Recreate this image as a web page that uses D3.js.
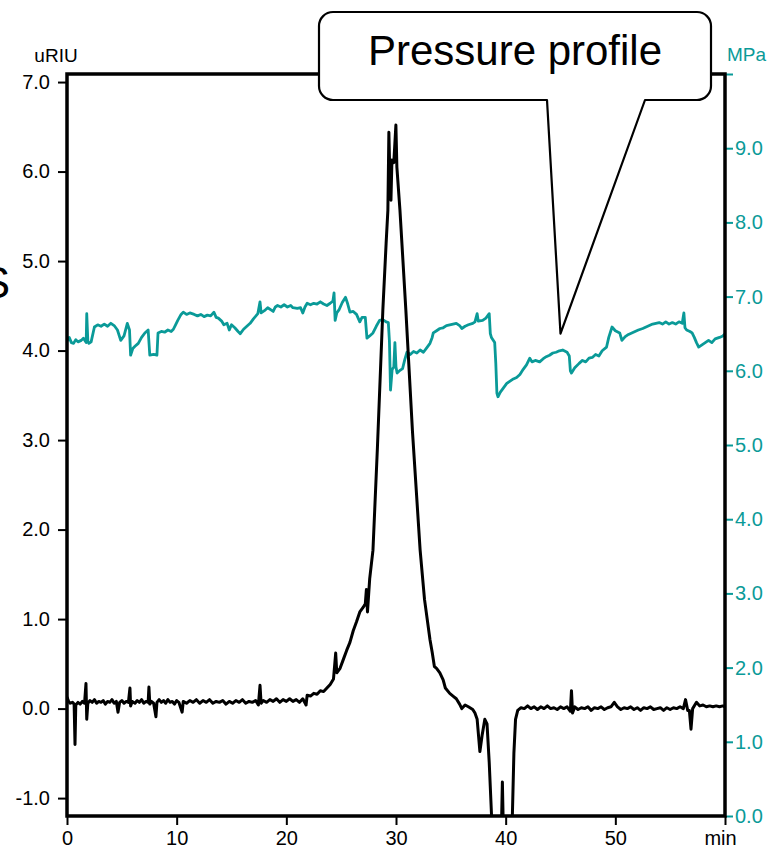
<!DOCTYPE html>
<html lang="en">
<head>
<meta charset="UTF-8">
<title>RI chromatogram with pressure profile</title>
<script src="https://d3js.org/d3.v7.min.js"></script>
<style>
    body { margin: 0; padding: 0; background: #fff; }
    svg { display: block; font-family: 'Liberation Sans', Arial, sans-serif; }
    .tick text { font-size: 20px; }
</style>
</head>
<body>
<svg id="chart" width="774" height="848"></svg>
<script>
    // axis ticks
    const timeTicks = [0, 10, 20, 30, 40, 50, 60];
    const riTicks = [-1, 0, 1, 2, 3, 4, 5, 6, 7];
    const pressureTicks = [0, 1, 2, 3, 4, 5, 6, 7, 8, 9, 10];

    // RI detector signal [min, uRIU]
    const riTrace = [
        [0.0,0.13],[0.15,0.08],[0.3,0.06],[0.5,0.07],[0.65,0.05],[0.73,-0.40],[0.8,0.04],[1.0,0.07],[1.2,0.05],[1.4,0.08],
        [1.6,0.06],[1.73,0.28],[1.8,-0.12],[1.9,0.06],[2.1,0.09],[2.3,0.07],[2.5,0.10],[2.7,0.06],[2.9,0.08],[3.1,0.07],
        [3.3,0.09],[3.5,0.05],[3.7,0.08],[3.9,0.07],[4.1,0.10],[4.3,0.06],[4.5,0.08],[4.65,-0.04],[4.8,0.07],[5.0,0.09],
        [5.2,0.06],[5.4,0.08],[5.6,0.07],[5.74,0.23],[5.8,0.03],[5.95,0.08],[6.2,0.06],[6.4,0.09],[6.6,0.07],[6.8,0.10],
        [7.0,0.06],[7.2,0.08],[7.4,0.07],[7.47,0.24],[7.55,0.05],[7.7,0.08],[7.9,0.06],[8.11,-0.09],[8.2,0.07],[8.4,0.10],
        [8.6,0.07],[8.8,0.09],[9.0,0.06],[9.2,0.10],[9.4,0.07],[9.6,0.08],[9.8,0.05],[10.0,0.09],[10.2,0.07],[10.5,-0.04],
        [10.6,0.08],[10.9,0.06],[11.2,0.09],[11.5,0.07],[11.8,0.10],[12.1,0.06],[12.4,0.09],[12.7,0.07],[13.0,0.10],[13.3,0.06],
        [13.6,0.08],[13.9,0.07],[14.2,0.09],[14.5,0.05],[14.8,0.08],[15.1,0.06],[15.4,0.09],[15.7,0.07],[16.0,0.10],[16.3,0.06],
        [16.6,0.08],[16.9,0.07],[17.2,0.09],[17.45,0.04],[17.6,0.26],[17.7,0.06],[17.9,0.09],[18.2,0.07],[18.5,0.10],[18.8,0.08],
        [19.1,0.11],[19.4,0.07],[19.7,0.10],[20.0,0.08],[20.3,0.11],[20.6,0.08],[20.9,0.10],[21.2,0.07],[21.5,0.11],[21.8,0.04],
        [21.9,0.15],[22.2,0.14],[22.5,0.17],[22.8,0.16],[23.1,0.20],[23.4,0.19],[23.7,0.23],[24.0,0.27],[24.3,0.33],[24.5,0.62],
        [24.6,0.40],[24.9,0.45],[25.2,0.55],[25.5,0.65],[25.8,0.74],[26.1,0.87],[26.4,0.97],[26.7,1.08],[27.0,1.13],[27.2,1.17],
        [27.3,1.33],[27.4,1.08],[27.6,1.45],[27.9,1.77],[28.3,2.90],[28.8,4.45],[29.1,5.20],[29.26,5.57],[29.35,6.44],[29.45,5.90],
        [29.54,5.68],[29.63,6.13],[29.8,6.10],[29.99,6.52],[30.08,6.05],[30.36,5.57],[30.9,4.45],[31.5,3.10],[32.2,1.77],[32.6,1.22],
        [33.1,0.77],[33.3,0.63],[33.5,0.47],[33.7,0.45],[34.0,0.40],[34.3,0.32],[34.5,0.23],[34.9,0.17],[35.2,0.14],[35.5,0.11],
        [35.8,0.05],[36.0,0.00],[36.3,0.04],[36.6,0.02],[37.0,-0.01],[37.2,-0.05],[37.4,-0.12],[37.65,-0.48],[37.85,-0.30],[38.1,-0.12],
        [38.3,-0.17],[38.5,-0.60],[38.75,-1.30],[38.9,-1.60],[39.5,-1.60],[39.62,-1.30],[39.7,-0.82],[39.78,-1.30],[39.9,-1.60],[40.4,-1.60],
        [40.6,-1.25],[40.75,-0.50],[40.9,-0.12],[41.1,-0.02],[41.4,0.01],[41.7,0.00],[42.0,0.03],[42.3,0.00],[42.6,0.02],[42.9,-0.01],
        [43.2,0.02],[43.5,0.00],[43.8,0.03],[44.1,0.00],[44.4,0.01],[44.7,-0.01],[45.0,0.02],[45.3,0.00],[45.6,0.02],[45.9,-0.03],
        [46.0,0.20],[46.1,-0.05],[46.3,0.02],[46.6,-0.01],[46.9,0.01],[47.2,0.00],[47.5,0.02],[47.8,-0.02],[48.1,0.01],[48.4,0.00],
        [48.7,0.02],[49.0,-0.01],[49.3,0.01],[49.6,0.02],[49.9,0.07],[50.2,0.02],[50.5,-0.01],[50.8,0.01],[51.1,0.00],[51.4,0.02],
        [51.7,-0.01],[52.0,0.01],[52.3,-0.02],[52.6,0.01],[52.9,0.00],[53.2,0.02],[53.5,-0.01],[53.8,0.00],[54.1,0.01],[54.4,-0.02],
        [54.7,0.01],[55.0,-0.01],[55.3,0.01],[55.6,0.00],[55.9,0.02],[56.2,0.00],[56.4,0.10],[56.6,-0.02],[56.75,-0.02],[56.9,-0.23],
        [57.05,0.00],[57.4,0.07],[57.7,0.03],[58.0,0.04],[58.3,0.02],[58.6,0.03],[58.9,0.02],[59.2,0.03],[59.5,0.02],[59.8,0.03],
        [60.0,0.02]
    ];

    // pump pressure [min, MPa]
    const pressureTrace = [
        [0.0,6.40],[0.2,6.45],[0.4,6.38],[0.6,6.37],[0.8,6.42],[1.0,6.39],[1.3,6.41],[1.5,6.44],[1.75,6.38],[1.8,6.77],
        [1.9,6.40],[2.0,6.37],[2.2,6.39],[2.5,6.59],[2.8,6.62],[3.1,6.60],[3.4,6.63],[3.7,6.60],[4.0,6.64],[4.3,6.61],
        [4.6,6.55],[4.9,6.41],[5.2,6.47],[5.5,6.64],[5.7,6.55],[5.8,6.21],[6.0,6.30],[6.2,6.33],[6.5,6.37],[6.8,6.45],
        [7.1,6.51],[7.4,6.55],[7.55,6.21],[7.9,6.22],[8.2,6.21],[8.3,6.51],[8.6,6.53],[8.9,6.52],[9.2,6.55],[9.5,6.53],
        [9.7,6.56],[9.9,6.62],[10.1,6.68],[10.4,6.76],[10.6,6.79],[10.9,6.76],[11.2,6.78],[11.6,6.76],[11.9,6.74],[12.2,6.76],
        [12.5,6.73],[12.8,6.75],[13.1,6.74],[13.4,6.79],[13.6,6.72],[13.8,6.71],[14.1,6.67],[14.3,6.62],[14.6,6.64],[14.8,6.55],
        [15.0,6.62],[15.3,6.58],[15.6,6.53],[15.8,6.50],[16.1,6.56],[16.4,6.60],[16.7,6.64],[17.0,6.70],[17.4,6.77],[17.6,6.93],
        [17.7,6.78],[18.0,6.81],[18.3,6.85],[18.6,6.82],[18.8,6.80],[19.0,6.86],[19.2,6.88],[19.5,6.86],[19.8,6.89],[20.1,6.86],
        [20.4,6.88],[20.6,6.85],[21.0,6.84],[21.3,6.85],[21.5,6.78],[21.7,6.86],[21.9,6.91],[22.2,6.89],[22.5,6.91],[22.8,6.90],
        [23.1,6.93],[23.4,6.90],[23.7,6.88],[24.0,6.91],[24.25,6.94],[24.35,7.05],[24.45,6.68],[24.6,6.78],[24.8,6.82],[25.1,6.92],
        [25.4,6.99],[25.6,6.90],[25.8,6.79],[26.1,6.80],[26.4,6.76],[26.7,6.66],[26.9,6.72],[27.2,6.72],[27.35,6.44],[27.6,6.47],
        [27.9,6.51],[28.2,6.60],[28.5,6.68],[28.8,6.69],[29.1,6.66],[29.3,6.65],[29.4,6.40],[29.5,5.74],[29.65,6.02],[29.8,6.05],
        [29.9,6.38],[30.0,6.05],[30.1,5.97],[30.4,6.01],[30.6,6.03],[30.8,6.15],[31.0,6.25],[31.3,6.22],[31.6,6.26],[31.9,6.24],
        [32.2,6.28],[32.5,6.25],[32.8,6.31],[33.1,6.37],[33.3,6.45],[33.4,6.51],[33.7,6.54],[34.0,6.57],[34.3,6.58],[34.6,6.61],
        [34.9,6.62],[35.2,6.63],[35.5,6.64],[35.8,6.61],[36.0,6.57],[36.3,6.60],[36.6,6.62],[37.0,6.64],[37.2,6.66],[37.4,6.77],
        [37.5,6.67],[37.9,6.68],[38.2,6.71],[38.5,6.77],[38.6,6.50],[38.7,6.45],[39.0,6.38],[39.1,6.10],[39.2,5.70],[39.3,5.65],
        [39.5,5.71],[39.8,5.77],[40.1,5.83],[40.4,5.86],[40.7,5.89],[41.0,5.91],[41.3,5.95],[41.6,6.02],[41.9,6.08],[42.2,6.17],
        [42.4,6.12],[42.7,6.14],[43.1,6.12],[43.4,6.16],[43.7,6.19],[44.0,6.21],[44.3,6.24],[44.6,6.25],[44.9,6.27],[45.2,6.28],
        [45.6,6.25],[45.8,6.20],[45.9,6.00],[46.0,5.97],[46.3,6.04],[46.7,6.10],[47.0,6.14],[47.3,6.12],[47.6,6.17],[47.9,6.18],
        [48.2,6.22],[48.5,6.20],[48.8,6.27],[49.2,6.32],[49.4,6.45],[49.7,6.59],[50.0,6.54],[50.4,6.51],[50.6,6.41],[50.9,6.46],
        [51.2,6.49],[51.5,6.51],[51.8,6.53],[52.1,6.55],[52.5,6.57],[52.8,6.59],[53.1,6.61],[53.4,6.63],[53.7,6.64],[54.0,6.65],
        [54.3,6.63],[54.6,6.66],[54.9,6.63],[55.2,6.65],[55.5,6.63],[55.8,6.66],[56.1,6.64],[56.25,6.78],[56.35,6.58],[56.5,6.55],
        [56.8,6.53],[57.0,6.51],[57.2,6.45],[57.4,6.38],[57.6,6.32],[57.9,6.35],[58.2,6.38],[58.5,6.41],[58.8,6.38],[59.1,6.43],
        [59.5,6.45],[59.8,6.47],[60.0,6.50]
    ];

    const calloutText = "Pressure profile";
    const calloutTarget = [45, 6.5]; // min, MPa

    const TEAL = "#0a9a98";

    const svg = d3.select("#chart");
    const plot = { left: 67, right: 725, top: 74, bottom: 816 };

    const x = d3.scaleLinear().domain([0, 60]).range([plot.left, plot.right]);
    const yRI = d3.scaleLinear().domain([-1.2, 7.09]).range([plot.bottom, plot.top]);
    const yP = d3.scaleLinear().domain([0, 10]).range([plot.bottom, plot.top]);

    svg.append("clipPath").attr("id", "plotClip")
        .append("rect")
        .attr("x", plot.left).attr("y", plot.top)
        .attr("width", plot.right - plot.left).attr("height", plot.bottom - plot.top);

    // left axis (uRIU)
    const leftAxis = svg.append("g")
        .attr("transform", `translate(${plot.left},0)`)
        .call(d3.axisLeft(yRI).tickValues(riTicks).tickFormat(d => d.toFixed(1)).tickSize(9).tickPadding(8));
    leftAxis.select(".domain").remove();
    leftAxis.selectAll(".tick line").attr("stroke", "#000").attr("stroke-width", 2);
    leftAxis.selectAll(".tick text").attr("fill", "#000");

    // right axis (MPa)
    const rightAxis = svg.append("g")
        .attr("transform", `translate(${plot.right},0)`)
        .call(d3.axisRight(yP).tickValues(pressureTicks)
            .tickFormat(d => d === 10 ? "" : d.toFixed(1)).tickSize(8).tickPadding(2));
    rightAxis.select(".domain").remove();
    rightAxis.selectAll(".tick line").attr("stroke", TEAL).attr("stroke-width", 2);
    rightAxis.selectAll(".tick text").attr("fill", TEAL);

    // bottom axis (min)
    const bottomAxis = svg.append("g")
        .attr("transform", `translate(0,${plot.bottom})`)
        .call(d3.axisBottom(x).tickValues(timeTicks)
            .tickFormat(d => d === 60 ? "min" : d).tickSize(9).tickPadding(6));
    bottomAxis.select(".domain").remove();
    bottomAxis.selectAll(".tick line").attr("stroke", "#000").attr("stroke-width", 2);
    bottomAxis.selectAll(".tick text").attr("fill", "#000")
        .attr("dx", d => d === 60 ? -5 : 0);

    // axis units
    svg.append("text")
        .attr("x", 56).attr("y", 62)
        .attr("text-anchor", "middle")
        .style("font-size", "19px")
        .text("uRIU");

    svg.append("text")
        .attr("x", 727).attr("y", 61)
        .attr("fill", TEAL)
        .style("font-size", "19px")
        .text("MPa");

    // cut-off letter at left edge
    svg.append("text")
        .attr("x", 10).attr("y", 298)
        .attr("text-anchor", "end")
        .style("font-size", "44px")
        .text("S");

    // traces
    const lines = svg.append("g").attr("clip-path", "url(#plotClip)");

    lines.append("path")
        .datum(pressureTrace)
        .attr("fill", "none")
        .attr("stroke", TEAL)
        .attr("stroke-width", 2.8)
        .attr("stroke-linejoin", "round")
        .attr("d", d3.line().x(d => x(d[0])).y(d => yP(d[1])));

    lines.append("path")
        .datum(riTrace)
        .attr("fill", "none")
        .attr("stroke", "#000")
        .attr("stroke-width", 3)
        .attr("stroke-linejoin", "round")
        .attr("d", d3.line().x(d => x(d[0])).y(d => yRI(d[1])));

    // frame
    svg.append("rect")
        .attr("x", plot.left).attr("y", plot.top)
        .attr("width", plot.right - plot.left).attr("height", plot.bottom - plot.top)
        .attr("fill", "none")
        .attr("stroke", "#000")
        .attr("stroke-width", 3.5);

    // callout box
    const box = { x0: 319, x1: 711, y0: 12, y1: 100, r: 14 };
    const tipX = x(calloutTarget[0]), tipY = yP(calloutTarget[1]);
    const calloutPath = `M${box.x0 + box.r},${box.y0} H${box.x1 - box.r}
        A${box.r},${box.r} 0 0 1 ${box.x1},${box.y0 + box.r} V${box.y1 - box.r}
        A${box.r},${box.r} 0 0 1 ${box.x1 - box.r},${box.y1} H645 L${tipX},${tipY} L547,${box.y1}
        H${box.x0 + box.r} A${box.r},${box.r} 0 0 1 ${box.x0},${box.y1 - box.r} V${box.y0 + box.r}
        A${box.r},${box.r} 0 0 1 ${box.x0 + box.r},${box.y0} Z`;

    svg.append("path")
        .attr("d", calloutPath)
        .attr("fill", "#fff")
        .attr("stroke", "#000")
        .attr("stroke-width", 2.2)
        .attr("stroke-linejoin", "round");

    svg.append("text")
        .attr("x", 515).attr("y", 65)
        .attr("text-anchor", "middle")
        .style("font-size", "42px")
        .text(calloutText);
</script>
</body>
</html>
